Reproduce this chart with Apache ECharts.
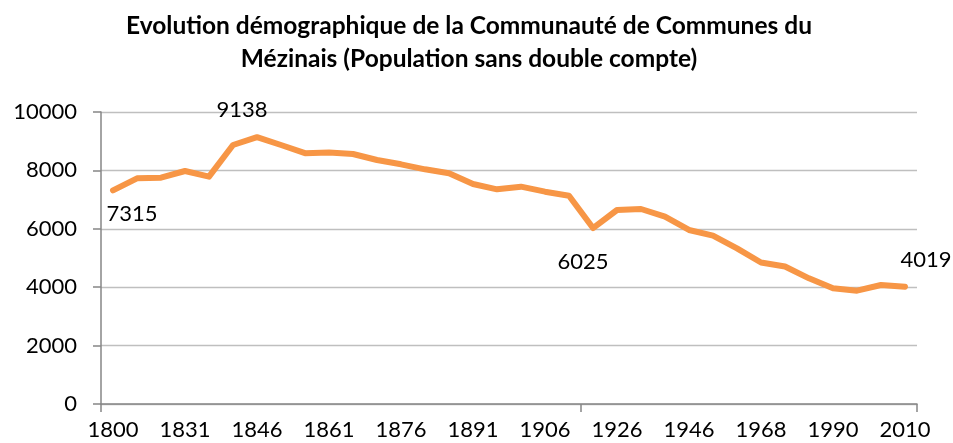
<!DOCTYPE html>
<html>
<head>
<meta charset="utf-8">
<style>
html,body{margin:0;padding:0;background:#fff;}
#chart{width:953px;height:443px;}
</style>
<script src="https://cdn.jsdelivr.net/npm/echarts@6/dist/echarts.min.js"></script>
</head>
<body>
<div id="chart"></div>
<script>
const titleText = 'Evolution démographique de la Communauté de Communes du\nMézinais (Population sans double compte)';
const years = ['1800','1806','1821','1831','1836','1841','1846','1851','1856','1861','1866','1872','1876','1881','1886','1891','1896','1901','1906','1911','1921','1926','1931','1936','1946','1954','1962','1968','1975','1982','1990','1999','2006','2010'];
const population = [7315,7729,7750,7979,7785,8870,9138,8870,8590,8612,8562,8356,8208,8037,7900,7534,7352,7443,7271,7134,6025,6644,6678,6415,5959,5765,5332,4846,4710,4304,3961,3881,4075,4019];
const yTicks = [0,2000,4000,6000,8000,10000];
const labelledIdx = [0,6,20,33];

const labelOffsets = {0:[19,24],6:[-15,-27],20:[-10,34],33:[21,-27]};
const FONT = 'Lato';

const seriesData = population.map((v,i)=>{
  if (labelledIdx.indexOf(i) >= 0) {
    return {value:v,label:{show:true,position:'inside',offset:labelOffsets[i],color:'#000',fontFamily:FONT,fontSize:22}};
  }
  return {value:v};
});

const chart = echarts.init(document.getElementById('chart'), null, {renderer:'canvas'});
chart.setOption({
  animation:false,
  backgroundColor:'#fff',
  title:{
    text:titleText,
    left:464, top:5, textAlign:'center',
    textStyle:{fontFamily:FONT,fontWeight:'bold',fontSize:24.5,color:'#000',lineHeight:33}
  },
  grid:{left:101,right:36,top:112,bottom:39,containLabel:false},
  xAxis:{
    type:'category',
    data:years,
    boundaryGap:true,
    axisLine:{show:true,lineStyle:{color:'#868686',width:1.5}},
    axisTick:{show:true,interval:19,length:8,lineStyle:{color:'#868686',width:1.5}},
    axisLabel:{interval:2,margin:15,color:'#000',fontFamily:FONT,fontSize:22},
    splitLine:{show:false}
  },
  yAxis:{
    type:'value',
    min:yTicks[0], max:yTicks[yTicks.length-1], interval:2000,
    axisLine:{show:true,lineStyle:{color:'#868686',width:1.5}},
    axisTick:{show:true,length:8,lineStyle:{color:'#868686',width:1.5}},
    axisLabel:{margin:24,color:'#000',fontFamily:FONT,fontSize:22,formatter:(v)=>String(v)},
    splitLine:{show:true,lineStyle:{color:'#BFBFBF',width:1.3}}
  },
  series:[{
    type:'line',
    data:seriesData,
    symbol:'circle',
    symbolSize:1,
    showSymbol:true,
    showAllSymbol:true,
    itemStyle:{color:'#F79646'},
    lineStyle:{color:'#F79646',width:6,join:'round',cap:'round'},
    label:{show:false},
    z:3
  }]
});
</script>
</body>
</html>
